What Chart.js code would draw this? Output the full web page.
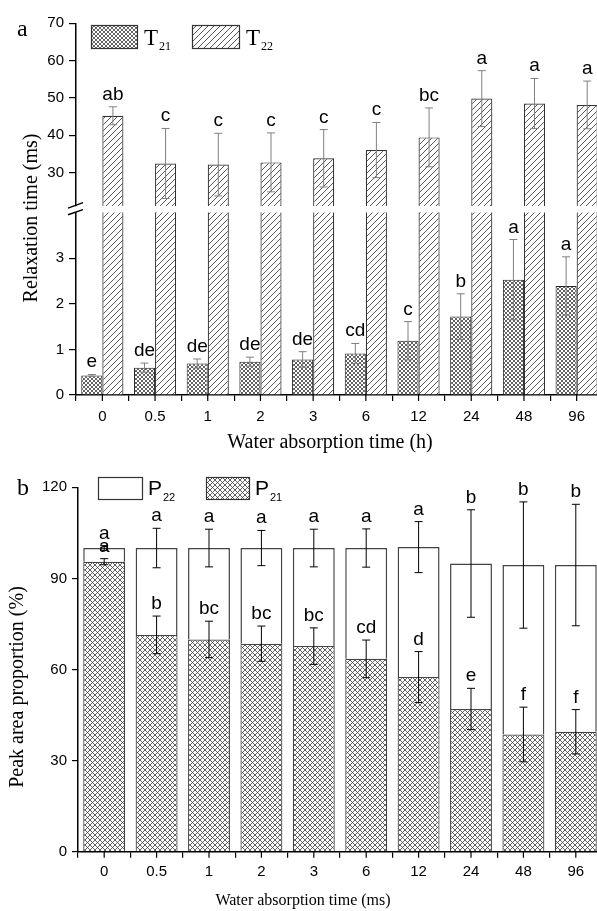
<!DOCTYPE html>
<html>
<head>
<meta charset="utf-8">
<script src="https://cdn.jsdelivr.net/npm/chart.js@4.4.1/dist/chart.umd.min.js"></script>
<style>
  html, body { margin: 0; padding: 0; background: #fff; overflow: hidden; }
  #wrap { position: relative; width: 597px; height: 911px; overflow: hidden; }
  canvas { position: absolute; left: 0; }
</style>
</head>
<body>
<div id="wrap">
  <canvas id="topUpper" width="620" height="330" style="top:0"></canvas>
  <canvas id="topLower" width="620" height="270" style="top:195px"></canvas>
  <canvas id="bottom" width="620" height="446" style="top:465px"></canvas>
</div>
<script>
// categories (water absorption time)
const times = ["0", "0.5", "1", "2", "3", "6", "12", "24", "48", "96"];

// panel a: relaxation times (ms)
const t21 = [0.43, 0.60, 0.69, 0.73, 0.78, 0.91, 1.19, 1.72, 2.53, 2.39];
const t21Err = [0.02, 0.10, 0.10, 0.10, 0.17, 0.22, 0.42, 0.50, 0.88, 0.64];
const t21Sig = ["e", "de", "de", "de", "de", "cd", "c", "b", "a", "a"];

const t22 = [45.2, 32.4, 32.1, 32.7, 33.8, 36.0, 39.4, 49.8, 48.5, 48.1];
const t22Err = [2.4, 9.4, 8.4, 7.9, 7.7, 7.4, 7.9, 7.5, 6.7, 6.4];
const t22Sig = ["ab", "c", "c", "c", "c", "c", "bc", "a", "a", "a"];

// panel b: peak area proportion (%)
const p21 = [95.5, 71.4, 69.9, 68.5, 67.7, 63.5, 57.5, 47.0, 38.6, 39.5];
const p21Err = [1.0, 6.2, 6.0, 5.8, 6.0, 6.2, 8.4, 6.8, 9.0, 7.3];
const p21Sig = ["a", "b", "bc", "bc", "bc", "cd", "d", "e", "f", "f"];

const p22 = [4.5, 28.6, 30.1, 31.5, 32.3, 36.5, 42.8, 47.9, 55.8, 54.9];
const p22Err = [0.8, 6.5, 6.2, 5.8, 6.2, 6.3, 8.4, 17.7, 20.8, 20.0];
const p22Sig = ["a", "a", "a", "a", "a", "a", "a", "b", "b", "b"];

// axis ticks
const upperTicks = [30, 40, 50, 60, 70];
const lowerTicks = [0, 1, 2, 3];
const bottomTicks = [0, 30, 60, 90, 120];

const sans = "'Liberation Sans', Arial, sans-serif";
const serif = "'Liberation Serif', 'Times New Roman', serif";

// hatch fills
function crossHatch(size, color, lw) {
  const c = document.createElement("canvas");
  c.width = c.height = size;
  const g = c.getContext("2d");
  g.fillStyle = "#fff";
  g.fillRect(0, 0, size, size);
  g.strokeStyle = color;
  g.lineWidth = lw;
  g.beginPath();
  g.moveTo(0, 0); g.lineTo(size, size);
  g.moveTo(size, 0); g.lineTo(0, size);
  g.stroke();
  return g.createPattern(c, "repeat");
}

function diagHatch(size, color, lw) {
  const c = document.createElement("canvas");
  c.width = c.height = size;
  const g = c.getContext("2d");
  g.fillStyle = "#fff";
  g.fillRect(0, 0, size, size);
  g.strokeStyle = color;
  g.lineWidth = lw;
  g.beginPath();
  g.moveTo(0, size); g.lineTo(size, 0);
  g.moveTo(-1, 1); g.lineTo(1, -1);
  g.moveTo(size - 1, size + 1); g.lineTo(size + 1, size - 1);
  g.stroke();
  return g.createPattern(c, "repeat");
}

const crossA = crossHatch(4, "#3a3a3a", 0.8);
const diagA = diagHatch(6, "#444", 0.9);
const crossB = crossHatch(5, "#3a3a3a", 0.8);

// error bars + significance letters
const errorBars = {
  id: "errorBars",
  afterDatasetsDraw(chart) {
    const { ctx, chartArea: a } = chart;
    const y = chart.scales.y;
    chart.data.datasets.forEach((ds, di) => {
      if (!ds.err) return;
      chart.getDatasetMeta(di).data.forEach((bar, i) => {
        const end = y.getValueForPixel(bar.y);
        const yTop = y.getPixelForValue(end + ds.err[i]);
        const yBot = y.getPixelForValue(end - ds.err[i]);
        const cap = 4;
        ctx.save();
        ctx.beginPath();
        ctx.rect(a.left, a.top - 1, a.right - a.left, a.bottom - a.top + 1);
        ctx.clip();
        ctx.strokeStyle = ds.errColor;
        ctx.lineWidth = 1;
        ctx.beginPath();
        ctx.moveTo(bar.x, yTop); ctx.lineTo(bar.x, yBot);
        ctx.moveTo(bar.x - cap, yTop); ctx.lineTo(bar.x + cap, yTop);
        ctx.moveTo(bar.x - cap, yBot); ctx.lineTo(bar.x + cap, yBot);
        ctx.stroke();
        ctx.restore();
        if (yTop >= a.top - 5 && yTop <= a.bottom) {
          ctx.save();
          ctx.fillStyle = "#000";
          ctx.font = "19px " + sans;
          ctx.textAlign = "center";
          ctx.textBaseline = "alphabetic";
          ctx.fillText(ds.sig[i], bar.x, yTop - 7);
          ctx.restore();
        }
      });
    });
  }
};

// tick marks under each category as well as between them
const centerTicks = {
  id: "centerTicks",
  afterDraw(chart) {
    const x = chart.scales.x;
    if (!x.options.display) return;
    const ctx = chart.ctx;
    ctx.save();
    ctx.strokeStyle = "#000";
    ctx.lineWidth = 1.2;
    ctx.beginPath();
    times.forEach((t, i) => {
      const px = x.getPixelForValue(i);
      ctx.moveTo(px, x.top);
      ctx.lineTo(px, x.top + 6);
    });
    ctx.stroke();
    ctx.restore();
  }
};

function subText(ctx, main, sub, x, y, mainFont, subFont, dy) {
  ctx.font = mainFont;
  ctx.fillText(main, x, y);
  const w = ctx.measureText(main).width;
  ctx.font = subFont;
  ctx.fillText(sub, x + w + 1, y + dy);
}

function legendBox(ctx, x, y, w, h, fill) {
  ctx.fillStyle = fill;
  ctx.fillRect(x, y, w, h);
  ctx.strokeStyle = "#333";
  ctx.lineWidth = 1.2;
  ctx.strokeRect(x + 0.5, y + 0.5, w, h);
}

function yAxis(min, max, tickList, width, tl) {
  return {
    min: min,
    max: max,
    afterBuildTicks: ax => { ax.ticks = tickList.map(v => ({ value: v })); },
    afterFit: ax => { ax.width = width; },
    border: { display: true, color: "#000", width: 1.5 },
    grid: { drawOnChartArea: false, color: "#000", lineWidth: 1.2, tickLength: tl },
    ticks: { color: "#000", font: { family: sans, size: 15 }, padding: 5 }
  };
}

function xAxis(show, height, pad) {
  return {
    display: show,
    offset: true,
    afterFit: ax => { ax.height = height; },
    border: { display: true, color: "#000", width: 1.5 },
    grid: { offset: true, drawOnChartArea: false, color: "#000", lineWidth: 1.2, tickLength: 6 },
    ticks: { color: "#000", font: { family: sans, size: 15 }, padding: pad, maxRotation: 0, autoSkip: false }
  };
}

const common = {
  responsive: false,
  animation: false,
  events: [],
  plugins: { legend: { display: false }, tooltip: { enabled: false } }
};

function topData() {
  return {
    labels: times,
    datasets: [
      { label: "T21", data: t21, err: t21Err, sig: t21Sig, errColor: "#808080",
        backgroundColor: crossA, borderColor: "#222", borderWidth: 1,
        barPercentage: 1, categoryPercentage: 0.8 },
      { label: "T22", data: t22, err: t22Err, sig: t22Sig, errColor: "#808080",
        backgroundColor: diagA, borderColor: "#333", borderWidth: 1.2,
        barPercentage: 1, categoryPercentage: 0.8 }
    ]
  };
}

// panel a, upper segment of the broken axis
new Chart(document.getElementById("topUpper"), {
  type: "bar",
  data: topData(),
  options: Object.assign({}, common, {
    layout: { padding: { left: 0, right: 17, top: 23.3, bottom: 124 } },
    scales: { x: xAxis(false, 0, 0), y: yAxis(21, 70, upperTicks, 76, 7) }
  }),
  plugins: [errorBars, {
    id: "decoA",
    afterDraw(chart) {
      const ctx = chart.ctx;
      ctx.save();
      ctx.fillStyle = "#000";
      ctx.textBaseline = "alphabetic";
      ctx.textAlign = "left";
      ctx.font = "24px " + serif;
      ctx.fillText("a", 17, 36);
      legendBox(ctx, 91, 25, 46, 23, crossA);
      legendBox(ctx, 192, 25, 47, 23, diagA);
      ctx.fillStyle = "#000";
      subText(ctx, "T", "21", 144, 45, "23px " + serif, "12px " + serif, 5);
      subText(ctx, "T", "22", 246, 45, "23px " + serif, "12px " + serif, 5);
      // y title spanning both segments
      ctx.translate(37, 218);
      ctx.rotate(-Math.PI / 2);
      ctx.textAlign = "center";
      ctx.font = "20px " + serif;
      ctx.fillText("Relaxation time (ms)", 0, 0);
      ctx.restore();
    }
  }]
});

// panel a, lower segment with the x axis
new Chart(document.getElementById("topLower"), {
  type: "bar",
  data: topData(),
  options: Object.assign({}, common, {
    layout: { padding: { left: 0, right: 17, top: 17.6, bottom: 0 } },
    scales: { x: xAxis(true, 70, 6.7), y: yAxis(0, 4, lowerTicks, 76, 7) }
  }),
  plugins: [errorBars, centerTicks, {
    id: "decoB",
    afterDraw(chart) {
      const ctx = chart.ctx;
      const a = chart.chartArea;
      ctx.save();
      // axis break marks
      ctx.strokeStyle = "#000";
      ctx.lineWidth = 1.5;
      ctx.beginPath();
      ctx.moveTo(a.left - 8, a.top - 4.5); ctx.lineTo(a.left + 7, a.top - 10);
      ctx.moveTo(a.left - 8, a.top + 2.2); ctx.lineTo(a.left + 7, a.top - 3);
      ctx.stroke();
      ctx.fillStyle = "#000";
      ctx.textAlign = "center";
      ctx.textBaseline = "alphabetic";
      ctx.font = "20px " + serif;
      ctx.fillText("Water absorption time (h)", 330, 253);
      ctx.restore();
    }
  }]
});

// panel b, stacked proportions
new Chart(document.getElementById("bottom"), {
  type: "bar",
  data: {
    labels: times,
    datasets: [
      { label: "P21", data: p21, err: p21Err, sig: p21Sig, errColor: "#000",
        backgroundColor: crossB, borderColor: "#444", borderWidth: 1.2,
        barPercentage: 1, categoryPercentage: 0.8 },
      { label: "P22", data: p22, err: p22Err, sig: p22Sig, errColor: "#000",
        backgroundColor: "#fff", borderColor: "#444", borderWidth: 1.5,
        barPercentage: 1, categoryPercentage: 0.8 }
    ]
  },
  options: Object.assign({}, common, {
    layout: { padding: { left: 0, right: 18, top: 22.3, bottom: 0 } },
    scales: {
      x: Object.assign(xAxis(true, 59.3, 5), { stacked: true }),
      y: Object.assign(yAxis(0, 120, bottomTicks, 78, 6), { stacked: true })
    }
  }),
  plugins: [errorBars, centerTicks, {
    id: "decoC",
    afterDraw(chart) {
      const ctx = chart.ctx;
      ctx.save();
      ctx.fillStyle = "#000";
      ctx.textBaseline = "alphabetic";
      ctx.textAlign = "left";
      ctx.font = "24px " + serif;
      ctx.fillText("b", 17, 30);
      legendBox(ctx, 98, 12, 44, 22, "#fff");
      legendBox(ctx, 206, 12, 43, 22, crossB);
      ctx.fillStyle = "#000";
      subText(ctx, "P", "22", 148, 30, "21px " + sans, "11px " + sans, 6);
      subText(ctx, "P", "21", 255, 30, "21px " + sans, "11px " + sans, 6);
      ctx.textAlign = "center";
      ctx.font = "16px " + serif;
      ctx.fillText("Water absorption time (ms)", 303, 440);
      ctx.translate(23, 222);
      ctx.rotate(-Math.PI / 2);
      ctx.font = "20px " + serif;
      ctx.fillText("Peak area proportion (%)", 0, 0);
      ctx.restore();
    }
  }]
});
</script>
</body>
</html>
